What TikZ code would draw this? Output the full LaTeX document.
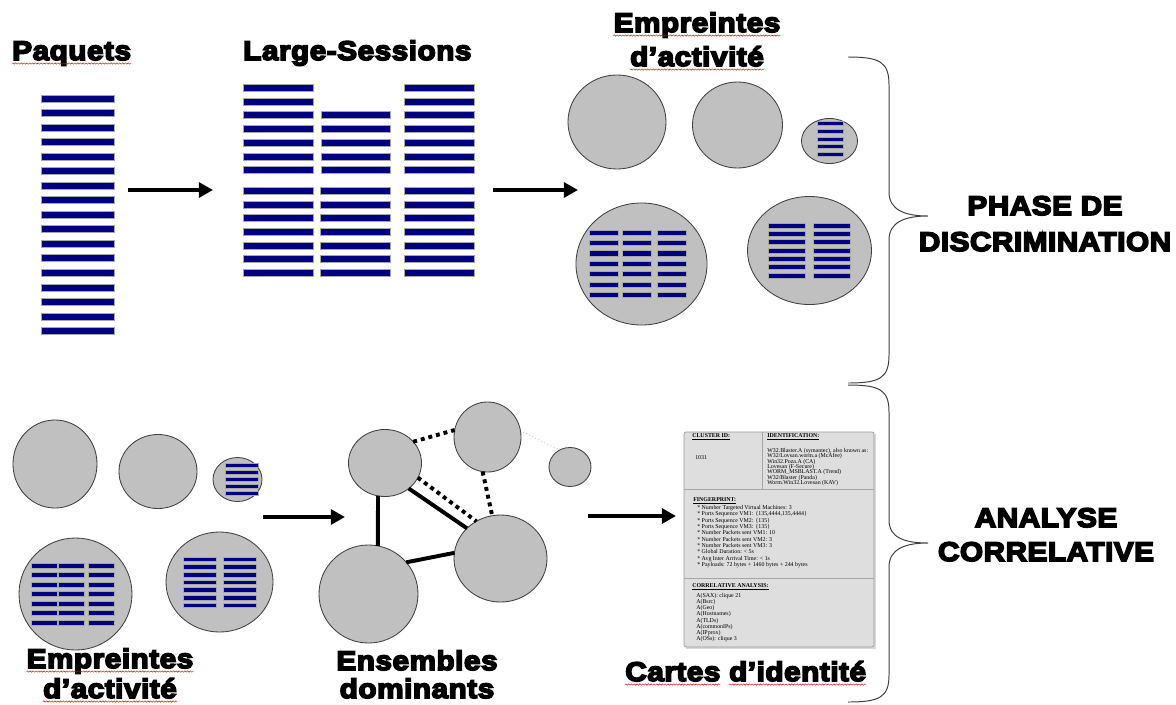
\documentclass[tikz,border=0pt]{standalone}
\usepackage{fontspec}
\usetikzlibrary{arrows.meta,shapes.geometric,decorations.pathmorphing}

\newfontfamily\heavyfont{Liberation Sans Bold}[FakeBold=6,FakeStretch=1.1,LetterSpace=2]
\newfontfamily\cardfont{Liberation Serif}
\newcommand\tightlines{\lineskiplimit -5pt\relax}
\definecolor{navybar}{RGB}{0,0,128}
\definecolor{blobgray}{RGB}{192,192,192}
\definecolor{cardgray}{RGB}{222,222,222}

\begin{document}
\begin{tikzpicture}[x=0.025cm, y=-0.025cm,
    title/.style={font=\heavyfont\fontsize{19.2}{23}\selectfont, inner sep=0pt},
    bar/.style={fill=navybar, draw=gray!70, line width=0.2pt},
    blob/.style 2 args={ellipse, draw=black!75, fill=blobgray, line width=0.6pt,
        inner sep=0pt, outer sep=0pt, minimum width=#1*0.05cm, minimum height=#2*0.05cm},
    flow/.style={line width=2.8pt, -{Triangle[length=10pt,width=10.5pt]}},
    solidlink/.style={line width=2.8pt},
    dotlink/.style={line width=2.8pt, dash pattern=on 2.8pt off 2.8pt},
    thinlink/.style={line width=0.4pt, gray, dotted},
    brace/.style={line width=0.7pt, black!75},
    spell/.style={red!80!black, line width=0.3pt, decorate,
        decoration={snake, amplitude=0.5pt, segment length=2pt}},
    cardtxt/.style={font=\cardfont\fontsize{4.2}{#1}\selectfont\tightlines,
        align=left, inner sep=0pt, anchor=north west},
    cardtxt/.default=4.5]

    % Sfondo e cornice
    \fill[white] (0,0) rectangle (1176,704);
    \useasboundingbox (0,0) rectangle (1176,704);

    % Titoli
    \node[title, anchor=base west] (pq) at (12,60) {Paquets};
    \node[title, anchor=base west] (ls) at (243,60) {Large-Sessions};
    \node[title, anchor=base] (emp1) at (697,32) {Empreintes};
    \node[title, anchor=base] (act1) at (697,66) {d’activité};
    \node[title, anchor=base] (emp2) at (110,668) {Empreintes};
    \node[title, anchor=base] (act2) at (110,698) {d’activité};
    \node[title, anchor=base] (ens) at (417,670) {Ensembles};
    \node[title, anchor=base] (dom) at (417,698) {dominants};
    \node[title, anchor=base west] (cart) at (625,681) {Cartes};
    \node[title, anchor=base west] (iden) at ([xshift=5.8pt]cart.base east) {d’identité};
    \node[title, anchor=base] (ph1) at (1045,215) {PHASE DE};
    \node[title, anchor=base] (ph2) at (1045,251) {DISCRIMINATION};
    \node[title, anchor=base] (an1) at (1046,527) {ANALYSE};
    \node[title, anchor=base] (an2) at (1046,561) {CORRELATIVE};

    % Sottolineature ondulate
    \foreach \w in {pq,emp1,act1,emp2,act2,cart,iden}
        \draw[spell] ([yshift=-2.5pt]\w.base west) -- ([yshift=-2.5pt]\w.base east);

    % Pacchetti
    \foreach \k in {0,...,16}
        \draw[bar] (41,{94.8+\k*14.53}) rectangle ++(73,7);

    % Large-Sessions
    \foreach \x in {243,404}
        \foreach \k in {0,...,6}
            \draw[bar] (\x,{84.2+\k*13.7}) rectangle ++(70,7);
    \foreach \k in {2,...,6}
        \draw[bar] (321,{84.2+\k*13.7}) rectangle ++(69,7);
    \foreach \x in {243,320,404}
        \foreach \k in {0,...,6}
            \draw[bar] (\x,{187.2+\k*13.67}) rectangle ++(70,7);

    % Frecce in alto
    \coordinate (a1s) at (128,190);
    \coordinate (a1e) at (213,190);
    \coordinate (a2s) at (493,190);
    \coordinate (a2e) at (578,190);
    \draw[flow] (a1s) -- (a1e);
    \draw[flow] (a2s) -- (a2e);

    % Impronte di attivita (in alto)
    \node[blob={49}{47}] (e1) at (617,122) {};
    \node[blob={45}{43}] (e2) at (737.5,125) {};
    \node[blob={28}{22.5}] (e3) at (829.5,141) {};
    \node[blob={65.5}{61}] (e4) at (641.5,264) {};
    \node[blob={62}{54}] (e5) at (809.5,250.5) {};
    \foreach \k in {0,...,4}
        \draw[bar] (817,{121.3+\k*7.75}) rectangle ++(26,4);
    \foreach \x in {589,622,657}
        \foreach \k in {0,...,6}
            \draw[bar] (\x,{229.7+\k*10.4}) rectangle ++(29.5,5.3);
    \foreach \x in {768,813}
        \foreach \k in {0,...,6}
            \draw[bar] (\x,{222.8+\k*8.33}) rectangle ++(37.5,5);

    % Impronte di attivita (in basso)
    \node[blob={42}{44}] (f1) at (55,464) {};
    \node[blob={39}{37}] (f2) at (158,471.5) {};
    \node[blob={24.5}{22}] (f3) at (237.5,479.5) {};
    \node[blob={56.5}{56}] (f4) at (75.5,594) {};
    \node[blob={53.5}{50}] (f5) at (219.5,582) {};
    \foreach \k in {0,...,4}
        \draw[bar] (225,{463+\k*7.1}) rectangle ++(33,4);
    \foreach \x in {31,58,88}
        \foreach \k in {0,...,6}
            \draw[bar] (\x,{562.8+\k*9.5}) rectangle ++(26,5);
    \foreach \x in {183,223}
        \foreach \k in {0,...,6}
            \draw[bar] (\x,{556.8+\k*7.67}) rectangle ++(33,4.5);

    % Frecce in basso
    \coordinate (b1s) at (263,517);
    \coordinate (b1e) at (345,517);
    \coordinate (b2s) at (588,516);
    \coordinate (b2e) at (676,516);
    \draw[flow] (b1s) -- (b1e);
    \draw[flow] (b2s) -- (b2e);

    % Insiemi dominanti
    \node[blob={36.5}{33.5}] (g1) at (385,463) {};
    \node[blob={33.5}{35}] (g2) at (487.5,437) {};
    \node[blob={21}{19.5}] (g3) at (570,467) {};
    \node[blob={49.5}{49}] (g4) at (368.5,594) {};
    \node[blob={46.5}{43.5}] (g5) at (500.5,558.5) {};
    \draw[dotlink] (g1.37) -- (g2.168);
    \draw[dotlink] (g1.-24) -- (g5.123);
    \draw[solidlink] (g1.-47) -- (g5.138);
    \draw[dotlink] (g2.-98) -- (g5.101);
    \draw[thinlink] (g2.11) -- (g3.122);
    \draw[solidlink] (g1.-102) -- (g4.79);
    \draw[solidlink] (g4.40) -- (g5.173);

    % Carta d'identita
    \fill[gray!30] (686,434) rectangle (876,649);
    \draw[fill=cardgray, draw=gray!80, rounded corners=1.5pt, line width=0.5pt] (684,432) rectangle (874,647);
    \draw[gray!70, line width=0.6pt] (684,489) -- (874,489);
    \draw[gray!70, line width=0.6pt] (684,578) -- (874,578);
    \draw[gray!70, line width=0.6pt] (762,432) -- (762,489);
    \node[cardtxt] (cid) at (692,433) {\textbf{\underline{CLUSTER ID:}}};
    \node[cardtxt] (cnum) at (695,455) {1031};
    \node[cardtxt] (idh) at (767,433) {\textbf{\underline{IDENTIFICATION:}}};
    \node[cardtxt=3.8] (idl) at (767,448) {W32.Blaster.A (symantec), also known as:\\
        W32/Lovsan.worm.a (McAfee)\\ Win32.Poza.A (CA)\\ Lovesan (F-Secure)\\
        WORM\_MSBLAST.A (Trend)\\ W32/Blaster (Panda)\\ Worm.Win32.Lovesan (KAV)};
    \node[cardtxt] (fph) at (693,497) {\textbf{\underline{FINGERPRINT:}}};
    \node[cardtxt=4.5] (fpl) at (697,505) {* Number Targeted Virtual Machines: 3\\
        * Ports Sequence VM1: \{135,4444,135,4444\}\\ * Ports Sequence VM2: \{135\}\\
        * Ports Sequence VM3: \{135\}\\ * Number Packets sent VM1: 10\\
        * Number Packets sent VM2: 3\\ * Number Packets sent VM3: 3\\
        * Global Duration: < 5s\\ * Avg Inter Arrival Time: < 1s\\
        * Payloads: 72 bytes + 1460 bytes + 244 bytes};
    \node[cardtxt] (cah) at (692,583) {\textbf{\underline{CORRELATIVE ANALYSIS:}}};
    \node[cardtxt=4.4] (cal) at (696,593) {A(SAX): clique 21\\ A(Bsrc)\\ A(Geo)\\
        A(Hostnames)\\ A(TLDs)\\ A(commonIPs)\\ A(IPprox)\\ A(OSs): clique 3};

    % Parentesi graffe
    \draw[brace] (848,57) .. controls (880,57) and (889,62) .. (889,85) -- (889,192)
        .. controls (889,210) and (905,216) .. (928,216)
        .. controls (905,216) and (889,222) .. (889,240) -- (889,355)
        .. controls (889,378) and (880,383) .. (848,383);
    \draw[brace] (848,385) .. controls (880,385) and (889,390) .. (889,412) -- (889,520)
        .. controls (889,538) and (905,543) .. (928,543)
        .. controls (905,543) and (889,549) .. (889,567) -- (889,675)
        .. controls (889,697) and (880,702) .. (848,702);

\end{tikzpicture}
\end{document}
